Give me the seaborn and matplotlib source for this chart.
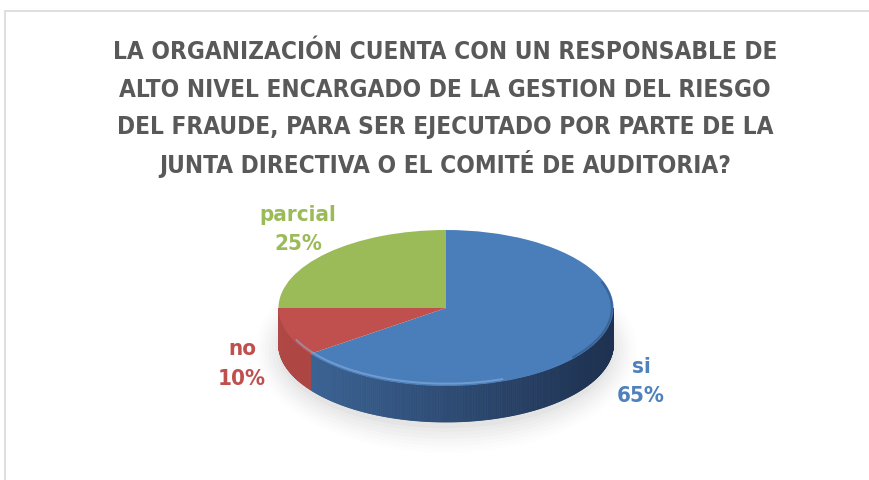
import numpy as np
import matplotlib
matplotlib.use("Agg")
import matplotlib.pyplot as plt
import matplotlib.colors as mcolors
from matplotlib.patches import Rectangle, Ellipse
import seaborn as sns

# ---- data ----
categories = ["si", "no", "parcial"]
values = [65, 10, 25]
top_colors = ["#4a7ebb", "#c0504d", "#9bbb59"]
label_colors = ["#4f81bd", "#c0504d", "#9bbb59"]
title_lines = ["LA ORGANIZACIÓN CUENTA CON UN RESPONSABLE DE",
               "ALTO NIVEL ENCARGADO DE LA GESTION DEL RIESGO",
               "DEL FRAUDE, PARA SER EJECUTADO POR PARTE DE LA",
               "JUNTA DIRECTIVA O EL COMITÉ DE AUDITORIA?"]

sns.set_theme(style="white")
plt.rcParams["font.family"] = ["DejaVu Sans"]
plt.rcParams["font.stretch"] = "condensed"

W, H = 869, 480
fig = plt.figure(figsize=(W / 100, H / 100), dpi=100)
fig.patch.set_facecolor("white")

# pie geometry in pixels
cx, cy, rx, ry, depth = 446, 308, 167.5, 78, 36
ax = fig.add_axes([0, 0, 1, 1])
ax.pie(values, colors=top_colors, startangle=90, counterclock=False,
       radius=1, center=(0, 0), wedgeprops=dict(linewidth=0, zorder=5))
ax.set_aspect("auto")
ax.set_xlim(-cx / rx, (W - cx) / rx)
ax.set_ylim((cy - H) / ry, cy / ry)
ax.axis("off")

def px(x, y):
    return (x - cx) / rx, (cy - y) / ry

d = depth / ry

# soft shadow
for i, a in enumerate(np.linspace(0.05, 0.012, 8)):
    e = Ellipse((0, -d - 0.08), 2.0 + 0.04 * i, 2.0 + 0.09 * i,
                facecolor="#9a9a9a", edgecolor="none", alpha=a, zorder=1)
    ax.add_patch(e)
ax.add_patch(Ellipse((0, -d), 2.0, 2.0, facecolor="white", edgecolor="none", zorder=1.5))

# side walls from slice angles
side_light = {"si": "#3f6a9e", "no": "#b04845", "parcial": "#8aa64f"}
side_dark = {"si": "#1e3150", "no": "#903634", "parcial": "#6f853f"}
start = 90.0
for cat, v in zip(categories, values):
    span = 360.0 * v / sum(values)
    a1, a2 = start - span, start
    start = a1
    for shift in (0, 360, -360):
        lo, hi = max(a1 + shift, 180), min(a2 + shift, 360)
        if hi <= lo:
            continue
        ths = np.linspace(lo, hi, max(2, int((hi - lo) * 2)))
        c1 = np.array(mcolors.to_rgb(side_light[cat]))
        c2 = np.array(mcolors.to_rgb(side_dark[cat]))
        for t1, t2 in zip(ths[:-1], ths[1:]):
            tm = np.radians((t1 + t2) / 2)
            f = np.clip(((np.cos(tm) + 1) / 2) ** 0.9, 0, 1)
            col = c1 * (1 - f) + c2 * f
            r1, r2 = np.radians(t1), np.radians(t2)
            xs = [np.cos(r1), np.cos(r2), np.cos(r2), np.cos(r1)]
            ys = [np.sin(r1), np.sin(r2), np.sin(r2) - d, np.sin(r1) - d]
            ax.fill(xs, ys, color=col, linewidth=0.6, edgecolor=col, zorder=3)

# rim highlight on the front edge
th = np.radians(np.linspace(205, 290, 80))
ax.plot(0.985 * np.cos(th), 0.97 * np.sin(th), color="#8fb3e0", lw=1.4, alpha=0.55, zorder=6)
th = np.radians(np.linspace(-40, 20, 60))
ax.plot(0.99 * np.cos(th), 0.98 * np.sin(th), color="#2b4a73", lw=1.5, alpha=0.5, zorder=6)

# labels: category name over percentage
label_pos = {"si": (641, 381.5), "no": (242, 364), "parcial": (298, 229.5)}
for cat, v, col in zip(categories, values, label_colors):
    x, y = px(*label_pos[cat])
    ax.text(x, y, f"{cat}\n{v}%", color=col, fontsize=16, fontweight="bold",
            ha="center", va="center", linespacing=1.62, zorder=10)

# title (one line per row, centred)
title_y = [52, 90, 127, 164]
for line, yy in zip(title_lines, title_y):
    fig.text(445 / W, 1 - yy / H, line, ha="center", va="center", fontsize=17.5,
             fontweight="bold", color="#595959")

# chart border
fig.add_artist(Rectangle((5 / W, -0.1), 1.2, 1 - 11 / H + 0.1, transform=fig.transFigure,
                         fill=False, edgecolor="#d9d9d9", linewidth=1.2))

fig.savefig("out.png", dpi=100, facecolor="white")
